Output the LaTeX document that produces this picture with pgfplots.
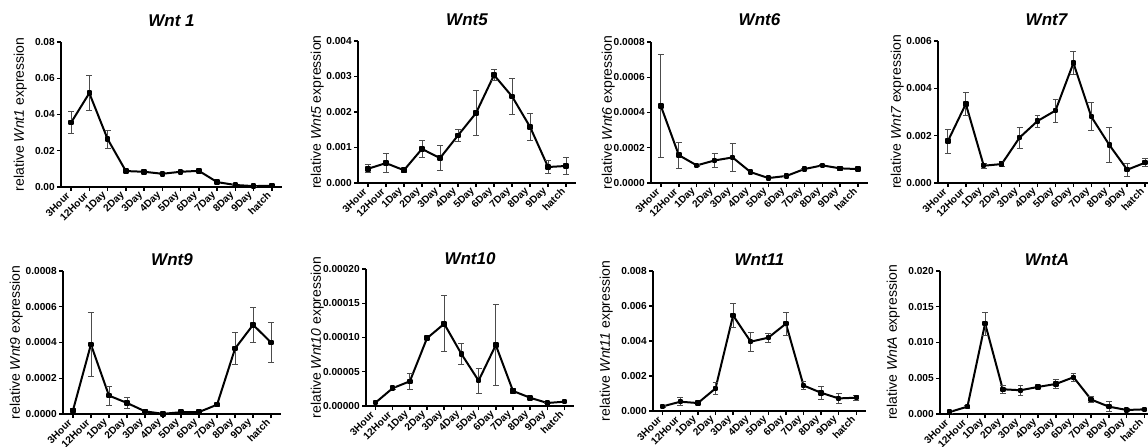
\documentclass[border=0pt]{standalone}
\usepackage{fontspec}
\setmainfont{Liberation Sans}
\usepackage{pgfplots}
\pgfplotsset{compat=1.18}
\newcommand{\tickfont}{\bfseries\fontsize{7.6}{8}\selectfont}
\pgfplotsset{
  wnt/.style={
    scale only axis, axis lines*=left, clip=false,
    xmin=-0.55, xmax=11.55, ymin=0,
    scaled y ticks=false,
    xtick={0,...,11},
    xticklabels={3Hour,12Hour,1Day,2Day,3Day,4Day,5Day,6Day,7Day,8Day,9Day,hatch},
    tick align=outside, major tick length=3pt,
    minor tick num=0,
    tick style={line width=1.1pt, black},
    axis line style={line width=1.3pt, black},
    xticklabel style={rotate=45, anchor=east, font=\tickfont, inner sep=3pt},
    yticklabel style={font=\tickfont, inner sep=1.5pt},
    ylabel style={at={(axis description cs:0,0.5)}, anchor=south, yshift=25.5pt, inner sep=0pt, font=\fontsize{10.5}{11}\selectfont},
    title style={font=\bfseries\itshape\fontsize{12.75}{14}\selectfont, at={(axis description cs:0.5,1)}, anchor=base, yshift=6pt},
  },
  row2/.style={ylabel style={yshift=4.5pt}},
  wntline/.style={black, line width=1.5pt, line join=round, mark=square*, mark size=1.3pt,
    mark options={solid, black},
    error bars/.cd, y dir=both, y explicit,
    error bar style={line width=0.6pt, color=black!70},
    error mark options={rotate=90, mark size=2.2pt, line width=0.6pt, color=black!70}},
}
\begin{document}
\begin{tikzpicture}
\useasboundingbox (0,0) rectangle (861pt,334.5pt);

% Wnt1
\begin{axis}[wnt, at={(45.75pt,194.25pt)}, anchor=south west, width=165.75pt, height=108.75pt,
  ymax=0.08, ytick={0,0.02,0.04,0.06,0.08}, yticklabels={0.00,0.02,0.04,0.06,0.08},
  title={Wnt 1}, ylabel={relative \textit{Wnt1} expression}]
\addplot[wntline] table[x=x, y=y, y error=e] {
x y e
0 0.0355 0.0062
1 0.0518 0.0096
2 0.0265 0.0050
3 0.0088 0.0008
4 0.0084 0.0004
5 0.0073 0.0005
6 0.0084 0.0005
7 0.0089 0.0008
8 0.0027 0.0003
9 0.0011 0.0002
10 0.0005 0.0001
11 0.0007 0.0001
};
\end{axis}

% Wnt5
\begin{axis}[wnt, at={(268.5pt,197.25pt)}, anchor=south west, width=163.5pt, height=106.5pt,
  ymax=0.004, ytick={0,0.001,0.002,0.003,0.004}, yticklabels={0.000,0.001,0.002,0.003,0.004},
  title={Wnt5}, ylabel={relative \textit{Wnt5} expression}]
\addplot[wntline] table[x=x, y=y, y error=e] {
x y e
0 0.00040 0.00011
1 0.00056 0.00027
2 0.00036 0.00006
3 0.00096 0.00024
4 0.00070 0.00035
5 0.00134 0.00018
6 0.00197 0.00064
7 0.00304 0.00015
8 0.00244 0.00050
9 0.00158 0.00038
10 0.00045 0.00018
11 0.00048 0.00025
};
\end{axis}

% Wnt6
\begin{axis}[wnt, at={(488.25pt,197.25pt)}, anchor=south west, width=162.75pt, height=105.75pt,
  ymax=0.0008, ytick={0,0.0002,0.0004,0.0006,0.0008}, yticklabels={0.0000,0.0002,0.0004,0.0006,0.0008},
  ylabel style={yshift=1.5pt},
  title={Wnt6}, ylabel={relative \textit{Wnt6} expression}]
\addplot[wntline] table[x=x, y=y, y error=e] {
x y e
0 0.000437 0.00029
1 0.000158 0.000074
2 0.000100 0.000005
3 0.000128 0.00004
4 0.000145 0.00008
5 0.000062 0.000004
6 0.000028 0.000003
7 0.000040 0.000003
8 0.000079 0.000004
9 0.000100 0.000005
10 0.000083 0.000012
11 0.000079 0.000006
};
\end{axis}

% Wnt7
\begin{axis}[wnt, at={(703.5pt,197.25pt)}, anchor=south west, width=162.75pt, height=106.5pt,
  ymax=0.006, ytick={0,0.002,0.004,0.006}, yticklabels={0.000,0.002,0.004,0.006},
  title={Wnt7}, ylabel={relative \textit{Wnt7} expression}]
\addplot[wntline] table[x=x, y=y, y error=e] {
x y e
0 0.00177 0.0005
1 0.00334 0.0005
2 0.00073 0.0001
3 0.00080 0.0001
4 0.00192 0.00045
5 0.00262 0.00025
6 0.00306 0.00048
7 0.00507 0.0005
8 0.00280 0.00059
9 0.00161 0.00073
10 0.00056 0.00027
11 0.00086 0.00016
};
\end{axis}

% Wnt9
\begin{axis}[wnt, row2, at={(47.25pt,24pt)}, anchor=south west, width=163.5pt, height=107.25pt,
  ymax=0.0008, ytick={0,0.0002,0.0004,0.0006,0.0008}, yticklabels={0.0000,0.0002,0.0004,0.0006,0.0008},
  title style={yshift=-7.5pt},
  title={Wnt9}, ylabel={relative \textit{Wnt9} expression}]
\addplot[wntline] table[x=x, y=y, y error=e] {
x y e
0 0.000019 0.00001
1 0.000389 0.00018
2 0.000103 0.000054
3 0.000062 0.000033
4 0.000015 0.00001
5 0.000001 0.000002
6 0.000010 0.000004
7 0.000011 0.000005
8 0.000052 0.000007
9 0.000366 0.000088
10 0.000499 0.0001
11 0.000400 0.000114
};
\end{axis}

% Wnt10
\begin{axis}[wnt, row2, at={(274.5pt,30pt)}, anchor=south west, width=156pt, height=102.75pt,
  ymax=0.0002, ytick={0,0.00005,0.0001,0.00015,0.0002}, yticklabels={0.00000,0.00005,0.00010,0.00015,0.00020},
  ylabel style={yshift=1.5pt},
  title style={yshift=-9pt},
  title={Wnt10}, ylabel={relative \textit{Wnt10} expression}]
\addplot[wntline] table[x=x, y=y, y error=e] {
x y e
0 0.0000048 0.000001
1 0.000026 0.000002
2 0.000036 0.000012
3 0.000099 0.000001
4 0.000120 0.000041
5 0.000076 0.000015
6 0.000037 0.000018
7 0.000089 0.000059
8 0.000022 0.000003
9 0.000012 0.000002
10 0.0000044 0.000001
11 0.0000063 0.000001
};
\end{axis}

% Wnt11
\begin{axis}[wnt, row2, at={(489.75pt,26.25pt)}, anchor=south west, width=159.75pt, height=105pt,
  ymax=0.008, ytick={0,0.002,0.004,0.006,0.008}, yticklabels={0.000,0.002,0.004,0.006,0.008},
  title style={yshift=-7.5pt},
  title={Wnt11}, ylabel={relative \textit{Wnt11} expression}]
\addplot[wntline] table[x=x, y=y, y error=e] {
x y e
0 0.000265 0.00004
1 0.00053 0.00022
2 0.000455 0.00004
3 0.00129 0.00036
4 0.00546 0.0007
5 0.00396 0.00055
6 0.00419 0.00025
7 0.00499 0.00065
8 0.00146 0.00025
9 0.00104 0.00036
10 0.00072 0.0003
11 0.00076 0.00015
};
\end{axis}

% WntA
\begin{axis}[wnt, row2, at={(705pt,24pt)}, anchor=south west, width=160.5pt, height=107.25pt,
  ymax=0.02, ytick={0,0.005,0.01,0.015,0.02}, yticklabels={0.000,0.005,0.010,0.015,0.020},
  title style={yshift=-7.5pt},
  title={WntA}, ylabel={relative \textit{WntA} expression}]
\addplot[wntline] table[x=x, y=y, y error=e] {
x y e
0 0.00028 0.0002
1 0.00103 0.0002
2 0.01266 0.0016
3 0.00346 0.0006
4 0.00332 0.0007
5 0.00379 0.0002
6 0.0042 0.0006
7 0.00514 0.0006
8 0.00201 0.0004
9 0.00103 0.0007
10 0.00056 0.0002
11 0.00065 0.0002
};
\end{axis}
\end{tikzpicture}
\end{document}
